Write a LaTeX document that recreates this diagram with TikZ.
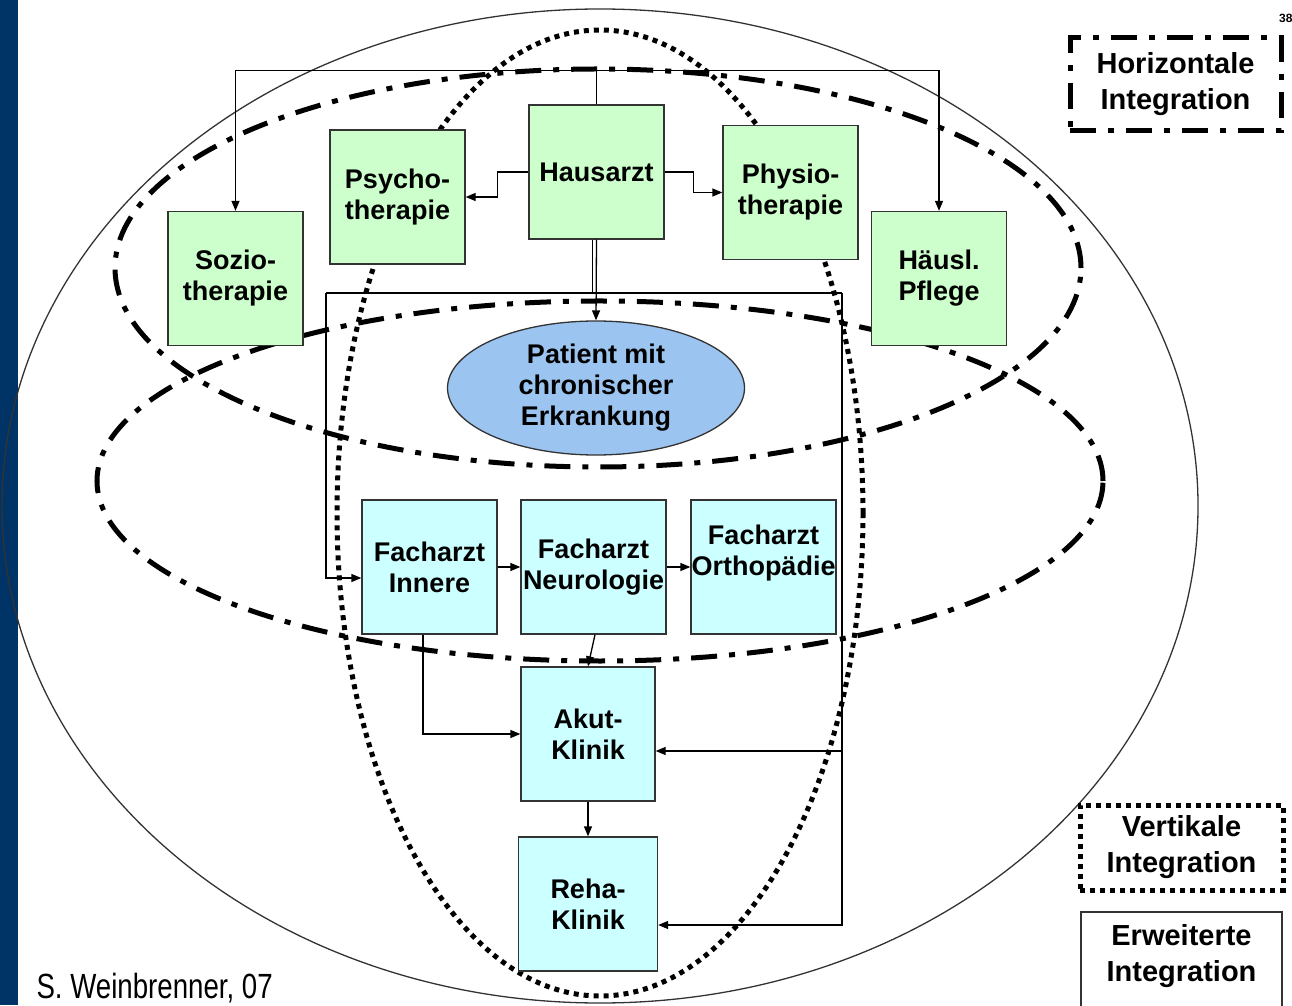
\documentclass[tikz,border=0pt]{standalone}
\usepackage{fontspec}
\setmainfont{Liberation Sans}
\newfontfamily\narrowfont[FakeStretch=0.79]{Liberation Sans}
\usepackage{xcolor}
\usetikzlibrary{positioning, arrows.meta, shapes.geometric}

\definecolor{boxgreen}{RGB}{204,255,204}
\definecolor{boxcyan}{RGB}{204,255,255}
\definecolor{patblue}{RGB}{155,197,240}
\definecolor{barblue}{RGB}{0,51,102}
\definecolor{edgegray}{RGB}{51,51,51}

\begin{document}
\begin{tikzpicture}[x=1pt, y=1pt, on grid, >={Triangle[length=10pt,width=8pt]},
    gbox/.style={draw=edgegray, line width=1.3pt, fill=boxgreen, minimum width=135pt,
        minimum height=134pt, inner sep=0pt, align=center,
        font=\fontsize{27}{31}\selectfont\bfseries},
    cbox/.style={gbox, fill=boxcyan},
    boxtext/.style={align=center, inner sep=0pt, font=\fontsize{27}{31}\selectfont\bfseries},
    hint/.style={line width=5pt, dash pattern=on 26pt off 12pt on 6pt off 12pt},
    vint/.style={line width=5pt, dash pattern=on 5pt off 5pt},
    arr/.style={->, line width=1.3pt},
    legbox/.style={align=center, font=\fontsize{29}{36}\selectfont\bfseries}]

    \useasboundingbox (0,0) rectangle (1292,1005);
    \fill[barblue] (0,0) rectangle (18,1005);

    % the four integration ellipses
    \draw[edgegray, line width=1.3pt] (600,499) ellipse [x radius=598, y radius=497];
    \draw[vint] (600,492) ellipse [x radius=263, y radius=483];
    \draw[hint] (598,737) ellipse [x radius=483, y radius=199];
    \draw[hint] (600,524) ellipse [x radius=503, y radius=180];

    % upper row
    \node[gbox] (haus) at (596.5,833) {Hausarzt};
    \node[gbox] (psych) at (397.5,808) {Psycho-\\therapie};
    \node[gbox] (physio) at (790.5,812.5) {Physio-\\therapie};
    \node[gbox] (sozio) at (235.5,726.5) {Sozio-\\therapie};
    \node[gbox] (pflege) [right=703.5pt of sozio] {Häusl.\\Pflege};

    \node[ellipse, draw=edgegray, line width=1.3pt, fill=patblue, minimum width=297pt,
        minimum height=134pt, inner sep=0pt, align=center,
        font=\fontsize{27}{31}\selectfont\bfseries] (patient) at (596,617)
        {Patient mit\\chronischer\\Erkrankung};

    % lower part
    \node[cbox] (innere) at (429.5,438) {Facharzt\\Innere};
    \node[cbox, minimum width=145pt] (neuro) [right=164pt of innere] {Facharzt\\Neurologie};
    \node[cbox, minimum width=145pt] (ortho) [right=170pt of neuro] {};
    \node[boxtext] (orthotxt) at ([yshift=14pt]ortho.center) {Facharzt\\Orthopädie};
    \node[cbox, minimum width=134pt] (akut) at (588,271) {Akut-\\Klinik};
    \node[cbox, minimum width=139pt] (reha) [below=170pt of akut] {Reha-\\Klinik};

    \coordinate (brkL) at (326,712);
    \coordinate (brkR) at (842,712);

    \draw[arr] (haus.north) -- ++(0,34) -| (sozio.north);
    \draw[arr] (haus.north) -- ++(0,34) -| (pflege.north);
    \draw[arr] (haus.west) -- ++(-31,0) |- (psych.east);
    \draw[arr] (haus.east) -- ++(29,0) |- (physio.west);
    \draw[line width=1.3pt] ([xshift=-4pt]haus.south) -- ([xshift=-4pt]haus.south |- brkL);
    \draw[arr] (haus.south) -- (patient.north);

    \draw[line width=1.3pt] (brkL) -- (brkR);
    \draw[arr] (brkL) |- ([yshift=-11pt]innere.west);
    \draw[arr] (brkR) |- ([yshift=-17pt]akut.east);
    \draw[arr] (brkR) |- ([yshift=-21pt]reha.east);

    \draw[arr] (innere) -- (neuro);
    \draw[arr] (neuro) -- (ortho);
    \draw[arr] ([xshift=1.5pt]neuro.south) -- (akut.north);
    \draw[arr] ([xshift=-6.5pt]innere.south) |- (akut.west);
    \draw[arr] (akut) -- (reha);

    % legend
    \node[legbox, draw, hint, minimum width=211pt, minimum height=93pt] (horiz) at (1175.5,920.5)
        {Horizontale\\Integration};
    \node[legbox, draw, vint, minimum width=203pt, minimum height=85pt] (vert) at (1181.5,157.5)
        {Vertikale\\Integration};
    \node[draw=edgegray, line width=1.3pt, minimum width=201pt, minimum height=100pt] (erw)
        at (1181.5,43) {};
    \node[legbox] (erwtxt) at (1181.5,49) {Erweiterte\\Integration};

    \node[font=\narrowfont\fontsize{35}{35}\selectfont, anchor=base west] (sign) at (33,7)
        {S. Weinbrenner, 07};
    \node[font=\bfseries\fontsize{12}{12}\selectfont, anchor=west, inner sep=0pt] (pnum)
        at (1279,987) {38};
\end{tikzpicture}
\end{document}
